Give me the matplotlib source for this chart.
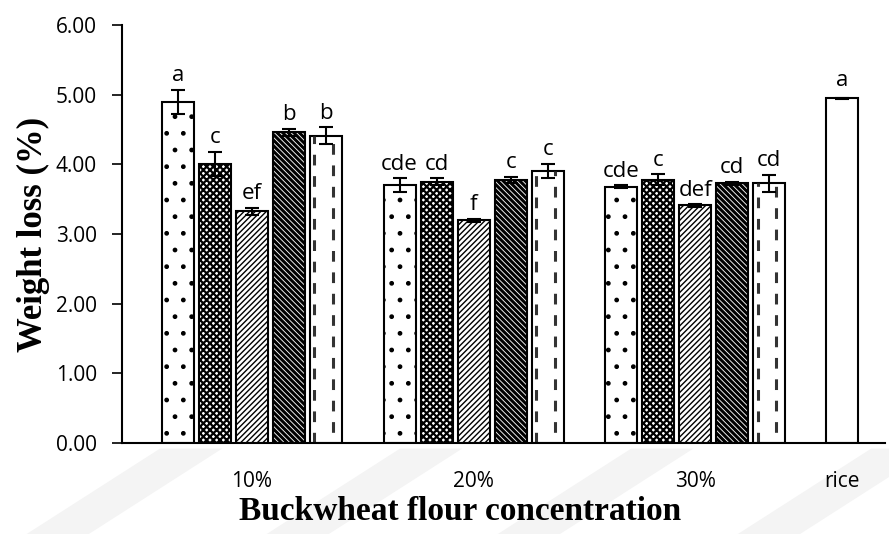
import matplotlib
matplotlib.use("Agg")
import matplotlib.pyplot as plt
import numpy as np
from matplotlib.patches import Polygon

# data
groups = ["10%", "20%", "30%"]
g1 = [4.90, 4.01, 3.33, 4.46, 4.41]
g2 = [3.70, 3.75, 3.20, 3.78, 3.91]
g3 = [3.68, 3.78, 3.41, 3.73, 3.73]
e1 = [0.17, 0.17, 0.05, 0.05, 0.12]
e2 = [0.10, 0.05, 0.02, 0.04, 0.10]
e3 = [0.02, 0.08, 0.02, 0.02, 0.12]
l1 = ["a", "c", "ef", "b", "b"]
l2 = ["cde", "cd", "f", "c", "c"]
l3 = ["cde", "c", "def", "cd", "cd"]
rice_val = 4.95
rice_err = 0.01
rice_lab = "a"

vals = np.array([g1, g2, g3])
errs = np.array([e1, e2, e3])
labs = [l1, l2, l3]

tickfont = "Open Sans"

fig = plt.figure(figsize=(8.89, 5.34), dpi=100)

# faint watermark stripes below the axis
for x0 in [0.03, 0.30, 0.56, 0.83]:
    fig.patches.append(Polygon([[x0, 0.0], [x0 + 0.07, 0.0], [x0 + 0.22, 0.16], [x0 + 0.15, 0.16]],
                               closed=True, transform=fig.transFigure, facecolor="#f4f4f4",
                               edgecolor="none", zorder=-5))

ax = fig.add_axes([0.137, 0.1704, 0.859, 0.7826])
ax.patch.set_alpha(0)

x = np.arange(len(groups))
w = 0.144
step = 0.167
hatches = [".", "xxxxx", "//////", "\\\\\\\\\\\\", ""]
hlw = [1.0, 1.6, 1.0, 2.2, 1.0]
for i in range(5):
    pos = x + (i - 2) * step
    plt.rcParams['hatch.linewidth'] = hlw[i]
    bars = ax.bar(pos, vals[:, i], width=w, facecolor="white", edgecolor="black",
                  linewidth=1.5, hatch=hatches[i], zorder=2)
    if i == 4:
        # dashed vertical pattern
        for p, v in zip(pos, vals[:, i]):
            ax.vlines([p - w * 0.36], 0, v, colors="#333333",
                      linestyles=(0, (3.5, 3.5)), linewidth=2.2, zorder=2.5)
            ax.vlines([p + w * 0.22], 0, v, colors="#333333",
                      linestyles=(3.5, (3.5, 3.5)), linewidth=2.2, zorder=2.5)
    ax.errorbar(pos, vals[:, i], yerr=errs[:, i], fmt="none", ecolor="black",
                elinewidth=1.5, capsize=5, capthick=1.5, zorder=3)
    for p, v, e, t in zip(pos, vals[:, i], errs[:, i], [lb[i] for lb in labs]):
        ax.text(p, v + e + 0.05, t, ha="center", va="bottom", fontsize=16, family=tickfont)

rice_x = 2.662
ax.bar([rice_x], [rice_val], width=w, facecolor="white", edgecolor="black", linewidth=1.5, zorder=2)
ax.errorbar([rice_x], [rice_val], yerr=[rice_err], fmt="none", ecolor="black",
            elinewidth=1.5, capsize=5, capthick=1.5, zorder=3)
ax.text(rice_x, rice_val + rice_err + 0.1, rice_lab, ha="center", va="bottom", fontsize=16, family=tickfont)

ax.set_xlim(-0.587, 2.858)
ax.set_ylim(0, 6)
ax.set_yticks(np.arange(0, 6.01, 1))
ax.set_yticklabels([f"{v:.2f}" for v in np.arange(0, 6.01, 1)], family=tickfont, fontsize=15)
ax.set_xticks(list(x) + [rice_x])
ax.set_xticklabels(groups + ["rice"], family=tickfont, fontsize=15)
ax.tick_params(axis="x", length=0, pad=20)
ax.tick_params(axis="y", length=7, width=1.2, direction="out", pad=11)
for s in ["top", "right"]:
    ax.spines[s].set_visible(False)
ax.spines["left"].set_linewidth(1.5)
ax.spines["bottom"].set_linewidth(1.5)

ax.set_ylabel("Weight loss (%)", family="Liberation Serif", fontweight="bold", fontsize=25, labelpad=4)
ax.set_xlabel("Buckwheat flour concentration", family="Liberation Serif", fontweight="bold",
              fontsize=24)
ax.xaxis.set_label_coords(0.443, -0.128)

fig.savefig("out.png", dpi=100)
